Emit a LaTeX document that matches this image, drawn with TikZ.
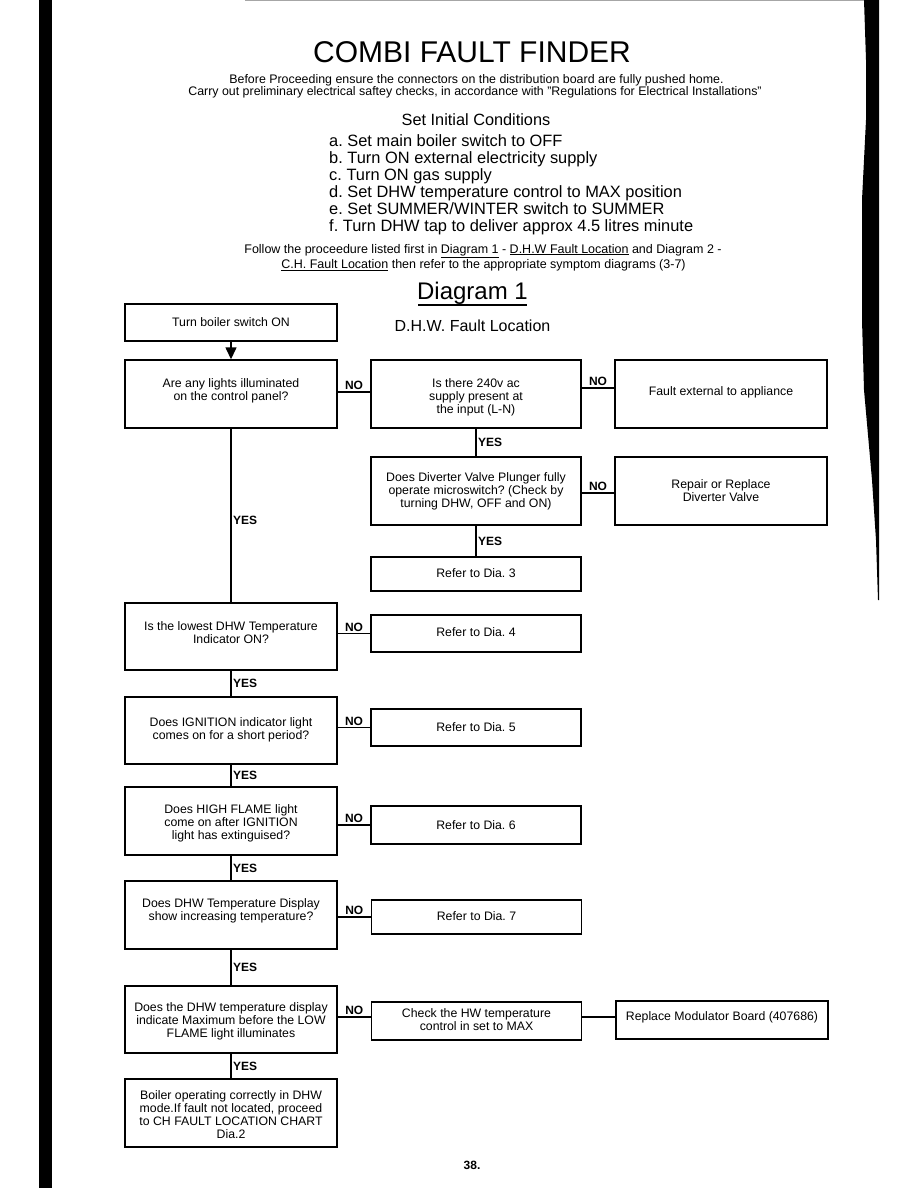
\documentclass[tikz,border=0pt]{standalone}
\usepackage{fontspec}
\setmainfont{Liberation Sans}
\usetikzlibrary{arrows.meta}
\frenchspacing
\begin{document}
\frenchspacing
\begin{tikzpicture}[x=1pt,y=-1pt,
  box/.style={draw, line width=1.4pt, minimum width=212pt, inner sep=0pt},
  rbox/.style={draw, line width=1.4pt, minimum width=210pt, inner sep=0pt},
  bt/.style={font=\fontsize{12.3}{13}\selectfont, align=center, inner sep=0pt},
  lab/.style={font=\fontsize{12}{13}\selectfont\bfseries, inner sep=1.5pt},
  conn/.style={line width=1.4pt},
  hd/.style={anchor=base, inner sep=0pt},
  cl/.style={anchor=base west, inner sep=0pt, font=\fontsize{16.4}{17}\selectfont},
]
\useasboundingbox (0,0) rectangle (918,1188);
% scan edges
\fill[black] (39,0) rectangle (52,1188);
\fill[black] (864,0) -- (866,60) -- (866,120) -- (862,200) -- (862,320) -- (864,390) -- (872,480) -- (876,540) -- (878,600) -- (879,600) -- (879,0) -- cycle;
\draw[gray!70, line width=1pt] (245,1) -- (864,1);

% header
\node[hd, font=\fontsize{30}{36}\selectfont] (title) at (472,63) {COMBI FAULT FINDER};
\node[hd, font=\fontsize{12.4}{13}\selectfont] (pre1) at (476.5,83.5) {Before Proceeding ensure the connectors on the distribution board are fully pushed home.};
\node[hd, font=\fontsize{12.4}{13}\selectfont] (pre2) at (475,96) {Carry out preliminary electrical saftey checks, in accordance with "Regulations for Electrical Installations"};
\node[hd, font=\fontsize{16.3}{17}\selectfont] (init) at (476,125) {Set Initial Conditions};
\node[cl] (conda) at (329,146.7) {a. Set main boiler switch to OFF};
\node[cl] (condb) at (329,163.7) {b. Turn ON external electricity supply};
\node[cl] (condc) at (329,180.7) {c. Turn ON gas supply};
\node[cl] (condd) at (329,197.7) {d. Set DHW temperature control to MAX position};
\node[cl] (conde) at (329,214.7) {e. Set SUMMER/WINTER switch to SUMMER};
\node[cl] (condf) at (329,231.7) {f. Turn DHW tap to deliver approx 4.5 litres minute};
\node[hd, font=\fontsize{12.5}{13}\selectfont] (fol1) at (483,253) {Follow the proceedure listed first in \underline{Diagram 1} - \underline{D.H.W Fault Location} and Diagram 2 -};
\node[hd, font=\fontsize{12.5}{13}\selectfont] (fol2) at (483.5,268.5) {\underline{C.H. Fault Location} then refer to the appropriate symptom diagrams (3-7)};
\node[hd, font=\fontsize{24}{28}\selectfont] (dia) at (472.5,299.3) {Diagram 1};
\draw[line width=1.3pt] (418,305) -- (527,305);
\node[hd, font=\fontsize{16}{18}\selectfont] (dhw) at (472.5,331) {D.H.W. Fault Location};

% left column
\node[box, minimum height=37pt, label={[bt]center:{Turn boiler switch ON}}] (start) at (231,322.5) {};
\node[box, minimum height=68pt, label={[bt,yshift=3.5pt]center:{Are any lights illuminated\\on the control panel?}}] (q1) at (231,394) {};
\node[box, minimum height=67pt, label={[bt,yshift=4pt]center:{Is the lowest DHW Temperature\\Indicator ON?}}] (q2) at (231,636.5) {};
\node[box, minimum height=67pt, label={[bt,yshift=1pt]center:{Does IGNITION indicator light\\comes on for a short period?}}] (q3) at (231,730.5) {};
\node[box, minimum height=68pt, label={[bt,yshift=-2pt]center:{Does HIGH FLAME light\\come on after IGNITION\\light has extinguised?}}] (q4) at (231,821) {};
\node[box, minimum height=68pt, label={[bt,yshift=4.5pt]center:{Does DHW Temperature Display\\show increasing temperature?}}] (q5) at (231,915) {};
\node[box, minimum height=67pt, label={[bt,yshift=-2pt]center:{Does the DHW temperature display\\indicate Maximum before the LOW\\FLAME light illuminates}}] (q6) at (231,1019.5) {};
\node[box, minimum height=68pt, label={[bt,yshift=-2pt]center:{Boiler operating correctly in DHW\\mode.If fault not located, proceed\\to CH FAULT LOCATION CHART\\Dia.2}}] (ok) at (231,1113) {};

% middle column
\node[rbox, minimum height=68pt, label={[bt,yshift=-3pt]center:{Is there 240v ac\\supply present at\\the input (L-N)}}] (v240) at (476,394) {};
\node[rbox, minimum height=68pt, label={[bt]center:{Does Diverter Valve Plunger fully\\operate microswitch? (Check by\\turning DHW, OFF and ON)}}] (div) at (476,491) {};
\node[rbox, minimum height=34pt, label={[bt,yshift=1pt]center:{Refer to Dia. 3}}] (d3) at (476,574) {};
\node[rbox, minimum height=37pt, label={[bt,yshift=1.5pt]center:{Refer to Dia. 4}}] (d4) at (476,633.5) {};
\node[rbox, minimum height=37pt, label={[bt]center:{Refer to Dia. 5}}] (d5) at (476,727.5) {};
\node[rbox, minimum height=38pt, label={[bt]center:{Refer to Dia. 6}}] (d6) at (476,825) {};
\node[rbox, minimum height=34pt, label={[bt,yshift=1pt]center:{Refer to Dia. 7}}] (d7) at (476.5,917) {};
\node[rbox, minimum height=38pt, label={[bt,yshift=1.5pt]center:{Check the HW temperature\\control in set to MAX}}] (chk) at (476.5,1021) {};

% right column
\node[box, minimum height=68pt, label={[bt,yshift=2pt]center:{Fault external to appliance}}] (ext) at (721,394) {};
\node[box, minimum height=68pt, label={[bt]center:{Repair or Replace\\Diverter Valve}}] (rep) at (721,491) {};
\node[box, minimum height=38pt, label={[bt,yshift=3pt]center:{Replace Modulator Board (407686)}}] (mod) at (722,1020) {};

% connectors
\draw[conn, -{Triangle[width=11pt,length=12pt]}] (start.south) -- (q1.north);
\draw[conn] ([yshift=2pt]q1.east) -- ([yshift=2pt]v240.west) node[midway, above, lab] {NO};
\draw[conn] ([yshift=6pt]v240.east) -- ([yshift=6pt]ext.west) node[midway, above, lab] {NO};
\draw[conn] (v240.south) -- (div.north) node[midway, right, lab] {YES};
\draw[conn] ([yshift=-2pt]div.east) -- ([yshift=-2pt]rep.west) node[midway, above, lab] {NO};
\draw[conn] (div.south) -- (d3.north) node[midway, right, lab] {YES};
\draw[conn] (q1.south) -- (q2.north) node[pos=0.53, right, lab] {YES};
\draw[conn] (q2.east |- d4.west) -- (d4.west) node[midway, above, lab] {NO};
\draw[conn] (q2.south) -- (q3.north) node[midway, right, lab] {YES};
\draw[conn] (q3.east |- d5.west) -- (d5.west) node[midway, above, lab] {NO};
\draw[conn] (q3.south) -- (q4.north) node[midway, right, lab] {YES};
\draw[conn] (q4.east |- d6.west) -- (d6.west) node[midway, above, lab] {NO};
\draw[conn] (q4.south) -- (q5.north) node[midway, right, lab] {YES};
\draw[conn] (q5.east |- d7.west) -- (d7.west) node[midway, above, lab] {NO};
\draw[conn] (q5.south) -- (q6.north) node[midway, right, lab] {YES};
\draw[conn] ([yshift=2.5pt]q6.east) -- ([yshift=2.5pt]q6.east -| chk.west) node[midway, above, lab] {NO};
\draw[conn] ([yshift=4pt]chk.east) -- ([yshift=4pt]chk.east -| mod.west);
\draw[conn] (q6.south) -- (ok.north) node[midway, right, lab] {YES};

\node[hd, font=\fontsize{12}{14}\selectfont\bfseries] (page) at (472,1169) {38.};
\end{tikzpicture}
\end{document}
